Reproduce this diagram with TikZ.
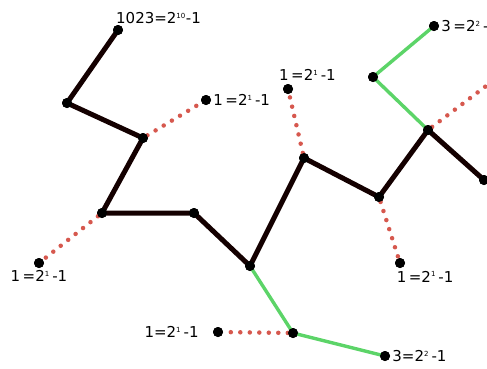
\documentclass[tikz,border=0pt]{standalone}
\usepackage{fontspec}
\setmainfont{DejaVu Sans}
\usetikzlibrary{positioning}
\definecolor{dotred}{RGB}{214,88,78}
\definecolor{linegreen}{RGB}{92,212,104}
\tikzset{
  vtx/.style={circle, fill=black, inner sep=0pt, minimum size=10pt},
  lbl/.style={font=\fontsize{15}{17}\selectfont, inner sep=1pt},
  solidedge/.style={line width=5pt, black!92!red},
  dottededge/.style={line width=4.5pt, dotred, line cap=round, dash pattern=on 0pt off 9.5pt},
  greenedge/.style={line width=3.4pt, linegreen}
}
\newcommand{\pw}[1]{=2\textsuperscript{\scriptsize #1}}

\begin{document}
\begin{tikzpicture}[x=1pt, y=-1pt]
    \useasboundingbox (0,0) rectangle (487,368);
    \clip (0,0) rectangle (487,368);

    % Draw vertices
    \node[vtx] (a) at (118,30) {};
    \node[vtx] (b) at (67,103) {};
    \node[vtx] (c) at (143,138) {};
    \node[vtx] (d) at (206,100) {};
    \node[vtx] (e) at (102,213) {};
    \node[vtx] (f) at (39,263) {};
    \node[vtx] (g) at (194,213) {};
    \node[vtx] (h) at (250,266) {};
    \node[vtx] (i) at (304,158) {};
    \node[vtx] (j) at (288,89) {};
    \node[vtx] (k) at (379,197) {};
    \node[vtx] (l) at (400,263) {};
    \node[vtx] (m) at (428,130) {};
    \node[vtx] (n) at (373,77) {};
    \node[vtx] (o) at (434,26) {};
    \coordinate (p) at (494,80);
    \node[vtx] (q) at (484,180) {};
    \node[vtx] (r) at (293,333) {};
    \node[vtx] (s) at (218,332) {};
    \node[vtx] (t) at (385,356) {};

    % Draw labels
    \node[lbl, anchor=south west] (la) at (115,25) {1023\pw{10}-1};
    \node[lbl, right=1pt of d] (ld) {1\,\pw{1}\,-1};
    \node[lbl, below=1pt of f] (lf) {1\,\pw{1}\,-1};
    \node[lbl, anchor=south west] (lj) at (278,82) {1\,\pw{1}\,-1};
    \node[lbl, below right=3pt and -8pt of l] (ll) {1\,\pw{1}\,-1};
    \node[lbl, right=1pt of o] (lo) {3\,\pw{2}\,-1};
    \node[lbl, left=13pt of s] (ls) {1\pw{1}\,-1};
    \node[lbl, right=1pt of t] (lt) {3\pw{2}\,-1};

    % Draw black path
    \draw[solidedge, line join=round] (a.center) -- (b.center) -- (c.center) -- (e.center) -- (g.center)
      -- (h.center) -- (i.center) -- (k.center) -- (m.center) -- (q.center);

    % Draw red dotted edges
    \foreach \u/\v in {c/d, e/f, i/j, k/l, m/p, r/s}
      \draw[dottededge] (\u) -- (\v);

    % Draw green edges
    \draw[greenedge] (m.center) -- (n.center) -- (o.center);
    \draw[greenedge] (h.center) -- (r.center) -- (t.center);

    % Redraw vertices on top
    \foreach \v in {a,b,c,d,e,f,g,h,i,j,k,l,m,n,o,q,r,s,t}
      \fill (\v) circle (5pt);
\end{tikzpicture}
\end{document}
